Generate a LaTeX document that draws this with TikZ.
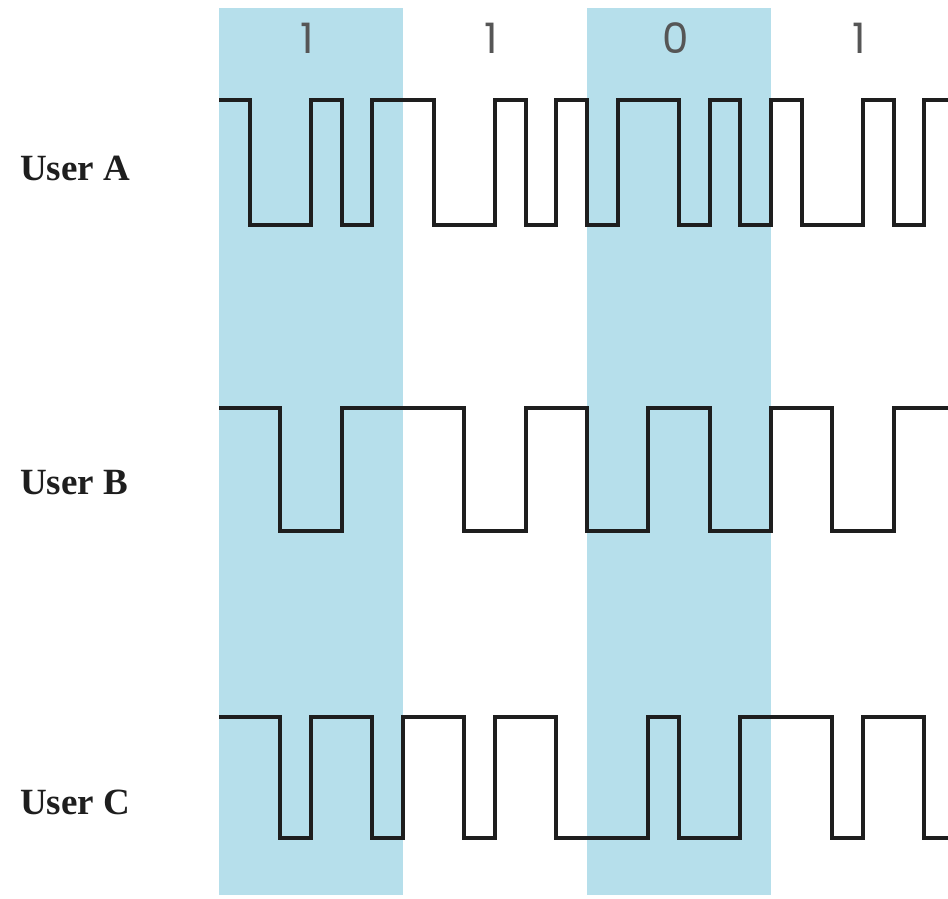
\documentclass[tikz,border=0pt]{standalone}
\usepackage{fontspec}
\setmainfont{Liberation Serif}
\newfontfamily\digitfont{Poppins}
\definecolor{band}{RGB}{182,223,235}
\definecolor{ink}{RGB}{30,30,30}
\begin{document}
\begin{tikzpicture}[x=1pt,y=-1pt,
  wave/.style={draw=ink,line width=4pt,line join=miter},
  slot/.style={fill=band,draw=none},
  bitlabel/.style={font=\digitfont\fontsize{42}{42}\selectfont,text=ink!75,inner sep=0pt},
  userlabel/.style={font=\bfseries\fontsize{37}{40}\selectfont,text=ink,anchor=base west,inner sep=0pt}]
% chip grid: origin and chip width (six chips per data bit)
\def\xo{219}
\def\cw{30.6667}
\useasboundingbox (0,0) rectangle (948,898);
\clip (0,0) rectangle (948,898);

% shaded bit slots (first and third bit)
\fill[slot] (\xo,8) rectangle ({\xo+6*\cw},895);
\fill[slot] ({\xo+12*\cw},8) rectangle ({\xo+18*\cw},895);

% data bits
\node[bitlabel] (bit1) at ({\xo+3*\cw-4},38) {1};
\node[bitlabel] (bit2) at ({\xo+9*\cw-4},38) {1};
\node[bitlabel] (bit3) at ({\xo+15*\cw-3},38) {0};
\node[bitlabel] (bit4) at ({\xo+21*\cw-4},38) {1};

% user labels
\node[userlabel] (userA) at (20,180) {User A};
\node[userlabel] (userB) at (20,494) {User B};
\node[userlabel] (userC) at (20,814) {User C};

% chip sequences: each entry is chip index / new level (0 = high, 1 = low)
\begin{scope}[shift={(0,100)}]
  \draw[wave] (\xo,0)
    \foreach \k/\l in {1/1,3/0,4/1,5/0,7/1,9/0,10/1,11/0,12/1,13/0,15/1,16/0,17/1,18/0,19/1,21/0,22/1,23/0}
      { -| ({\xo+\k*\cw},{\l*125}) }
    -- ({\xo+24*\cw},0);
\end{scope}

\begin{scope}[shift={(0,408)}]
  \draw[wave] (\xo,0)
    \foreach \k/\l in {2/1,4/0,8/1,10/0,12/1,14/0,16/1,18/0,20/1,22/0}
      { -| ({\xo+\k*\cw},{\l*123}) }
    -- ({\xo+24*\cw},0);
\end{scope}

\begin{scope}[shift={(0,717)}]
  \draw[wave] (\xo,0)
    \foreach \k/\l in {2/1,3/0,5/1,6/0,8/1,9/0,11/1,14/0,15/1,17/0,20/1,21/0,23/1}
      { -| ({\xo+\k*\cw},{\l*121}) }
    -- ({\xo+24*\cw},121);
\end{scope}
\end{tikzpicture}
\end{document}
